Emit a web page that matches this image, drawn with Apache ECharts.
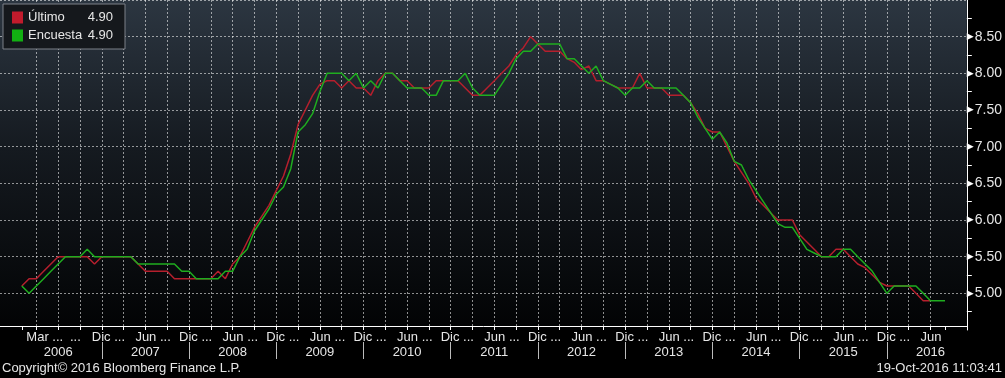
<!DOCTYPE html>
<html>
<head>
<meta charset="utf-8">
<script src="https://cdn.jsdelivr.net/npm/echarts@6/dist/echarts.min.js"></script>
<style>
html,body{margin:0;padding:0;background:#000;}
#chart{width:1005px;height:378px;}
</style>
</head>
<body>
<div id="chart"></div>
<script>
// ---- data (monthly, starting Jan 2006) ----
const axisStart = [2005, 10];   // first month on the x axis
const axisMonths = 134;         // number of monthly categories on the axis
const dataStart = '2006-01';

const ultimo = [
5.1,5.2,5.2,5.3,5.4,5.5,5.5,5.5,5.5,5.5,5.4,5.5,
5.5,5.5,5.5,5.5,5.4,5.3,5.3,5.3,5.3,5.2,5.2,5.2,
5.2,5.2,5.2,5.3,5.2,5.4,5.5,5.7,5.9,6.05,6.2,6.4,
6.6,6.9,7.3,7.5,7.7,7.85,7.9,7.9,7.8,7.9,7.8,7.8,
7.7,7.9,8.0,8.0,7.9,7.9,7.8,7.8,7.8,7.9,7.9,7.9,
7.9,7.8,7.7,7.7,7.8,7.9,8.0,8.1,8.25,8.35,8.5,8.4,
8.3,8.3,8.3,8.2,8.15,8.05,8.1,7.9,7.9,7.85,7.8,7.8,
7.8,8.0,7.8,7.8,7.8,7.7,7.7,7.7,7.6,7.45,7.25,7.2,
7.2,7.0,6.8,6.65,6.5,6.3,6.2,6.1,6.0,6.0,6.0,5.8,
5.7,5.6,5.5,5.5,5.6,5.6,5.5,5.4,5.35,5.25,5.15,5.1,
5.1,5.1,5.1,5.0,4.9,4.9
];
const encuesta = [
5.1,5.0,5.1,5.2,5.3,5.4,5.5,5.5,5.5,5.6,5.5,5.5,
5.5,5.5,5.5,5.5,5.4,5.4,5.4,5.4,5.4,5.4,5.3,5.3,
5.2,5.2,5.2,5.2,5.3,5.3,5.5,5.6,5.85,6.0,6.15,6.35,
6.45,6.7,7.2,7.3,7.45,7.75,8.0,8.0,8.0,7.9,8.0,7.8,
7.9,7.8,8.0,8.0,7.9,7.8,7.8,7.8,7.7,7.7,7.9,7.9,
7.9,8.0,7.8,7.7,7.7,7.7,7.85,8.0,8.2,8.3,8.3,8.4,
8.4,8.4,8.4,8.2,8.2,8.1,8.0,8.1,7.9,7.85,7.8,7.7,
7.8,7.8,7.9,7.8,7.8,7.8,7.8,7.7,7.6,7.4,7.25,7.1,
7.2,7.05,6.8,6.75,6.55,6.4,6.25,6.1,5.95,5.9,5.9,5.75,
5.6,5.55,5.5,5.5,5.5,5.6,5.6,5.5,5.4,5.3,5.15,5.0,
5.1,5.1,5.1,5.1,5.0,4.9,4.9,4.9
];
const seriesNames = ['Último', 'Encuesta'];
const lastValues = ['4.90', '4.90'];

const monthLabels = {
  '2006-03':'Mar ...','2006-09':'...','2006-12':'Dic ...',
  '2007-06':'Jun ...','2007-12':'Dic ...','2008-06':'Jun ...','2008-12':'Dic ...',
  '2009-06':'Jun ...','2009-12':'Dic ...','2010-06':'Jun ...','2010-12':'Dic ...',
  '2011-06':'Jun ...','2011-12':'Dic ...','2012-06':'Jun ...','2012-12':'Dic ...',
  '2013-06':'Jun ...','2013-12':'Dic ...','2014-06':'Jun ...','2014-12':'Dic ...',
  '2015-06':'Jun ...','2015-12':'Dic ...','2016-06':'Jun'
};
const yearLabels = {
  '2006-06':'2006','2007-06':'2007','2008-06':'2008','2009-06':'2009','2010-06':'2010',
  '2011-06':'2011','2012-06':'2012','2013-06':'2013','2014-06':'2014','2015-06':'2015','2016-06':'2016'
};
const gridFirst = '2006-03', gridLast = '2016-06';
const extraTicks = ['2006-01', '2016-08'];

// ---- build categories ----
const categories = [];
for (let k = 0; k < axisMonths; k++) {
  const m0 = axisStart[1] - 1 + k;
  const y = axisStart[0] + Math.floor(m0 / 12);
  const m = (m0 % 12) + 1;
  categories.push(y + '-' + (m < 10 ? '0' + m : m));
}
const offset = categories.indexOf(dataStart);
function pad(arr) {
  const out = new Array(categories.length).fill(null);
  arr.forEach((v, i) => { out[offset + i] = v; });
  return out;
}
const isQuarter = v => { const m = +v.slice(5); return m % 3 === 0 && v >= gridFirst && v <= gridLast; };
const isYearSep = v => v.slice(5) === '12' && v >= '2006-12' && v <= '2015-12';

const FONT = 'Liberation Sans';
const TXT = '#e6e6e6';
const GRIDC = 'rgba(255,255,255,0.55)';

const chart = echarts.init(document.getElementById('chart'));
chart.setOption({
  backgroundColor: '#000',
  animation: false,
  grid: {
    left: 0, right: 38, top: -13, bottom: 48,
    show: true, borderWidth: 0,
    backgroundColor: new echarts.graphic.LinearGradient(0, 0, 0, 1, [
      {offset: 0, color: '#2c3641'},
      {offset: 0.45, color: '#151a20'},
      {offset: 1, color: '#020304'}
    ])
  },
  legend: {
    orient: 'vertical', left: 3, top: 4,
    padding: [7, 12, 7, 9],
    itemGap: 5, itemWidth: 11, itemHeight: 12, itemTextGap: 5,
    icon: 'rect',
    backgroundColor: '#15181c', borderColor: '#7c8088', borderWidth: 1,
    selectedMode: false,
    data: seriesNames,
    formatter: name => '{n|' + name + '}{v|' + lastValues[seriesNames.indexOf(name)] + '}',
    textStyle: {
      color: TXT, fontFamily: FONT, fontSize: 13,
      rich: {
        n: {width: 60, fontSize: 13, fontFamily: FONT, color: TXT},
        v: {width: 25, align: 'right', fontSize: 13, fontFamily: FONT, color: TXT}
      }
    }
  },
  xAxis: [{
    type: 'category', data: categories, boundaryGap: false, position: 'bottom', offset: -4,
    axisLine: {show: true, lineStyle: {color: '#ffffff', width: 1}},
    axisTick: {show: true, length: 4, lineStyle: {color: '#ffffff'},
      interval: (i, v) => isQuarter(v) || extraTicks.includes(v)},
    axisLabel: {show: true, margin: 5, color: TXT, fontFamily: FONT, fontSize: 13,
      hideOverlap: false,
      interval: (i, v) => !!monthLabels[v],
      formatter: v => monthLabels[v] ? '{m|' + monthLabels[v] + '}' : '',
      rich: {m: {width: 20, align: 'left', color: TXT, fontFamily: FONT, fontSize: 13}}},
    splitLine: {show: true, interval: (i, v) => isQuarter(v),
      lineStyle: {color: GRIDC, type: [2, 2], width: 1}}
  }, {
    type: 'category', data: categories, boundaryGap: false, position: 'bottom', offset: 12,
    axisLine: {show: false},
    axisTick: {show: true, length: 17, lineStyle: {color: '#bbbbbb'},
      interval: (i, v) => isYearSep(v)},
    axisLabel: {show: true, margin: 4, color: TXT, fontFamily: FONT, fontSize: 13,
      hideOverlap: false,
      interval: (i, v) => !!yearLabels[v], formatter: v => yearLabels[v] || ''},
    splitLine: {show: false}
  }],
  yAxis: {
    type: 'value', position: 'right', min: 4.5, max: 9.0, interval: 0.5,
    axisLine: {show: true, lineStyle: {color: '#ffffff', width: 1}},
    axisTick: {show: false},
    minorTick: {show: true, splitNumber: 2, length: 5, lineStyle: {color: '#ffffff'}},
    axisLabel: {
      show: true, margin: 0, color: TXT, fontFamily: FONT, fontSize: 14,
      formatter: v => (v < 4.9 || v > 8.6) ? '' : '{t|▶}{v|' + v.toFixed(2) + '}',
      rich: {
        t: {fontSize: 9, color: '#ffffff', fontFamily: 'DejaVu Sans', padding: [0, 1, 0, 0]},
        v: {fontSize: 14, color: TXT, fontFamily: FONT}
      }
    },
    splitLine: {show: true, lineStyle: {
      color: ['rgba(0,0,0,0)', GRIDC, GRIDC, GRIDC, GRIDC, GRIDC, GRIDC, GRIDC, GRIDC, GRIDC],
      type: [2, 2], width: 1}}
  },
  series: [{
    name: seriesNames[0], type: 'line', data: pad(ultimo), showSymbol: false, symbol: 'none',
    color: '#c11b2c', lineStyle: {color: '#b51f2d', width: 1.5}, z: 3
  }, {
    name: seriesNames[1], type: 'line', data: pad(encuesta), showSymbol: false, symbol: 'none',
    color: '#12b012', lineStyle: {color: '#1fad1f', width: 1.5}, z: 4
  }],
  graphic: [{
    type: 'text', left: 2, bottom: 3,
    style: {text: 'Copyright© 2016 Bloomberg Finance L.P.', fill: TXT, font: '13px "Liberation Sans"'}
  }, {
    type: 'text', right: 3, bottom: 3,
    style: {text: '19-Oct-2016 11:03:41', fill: TXT, font: '13px "Liberation Sans"'}
  }]
});
</script>
</body>
</html>
